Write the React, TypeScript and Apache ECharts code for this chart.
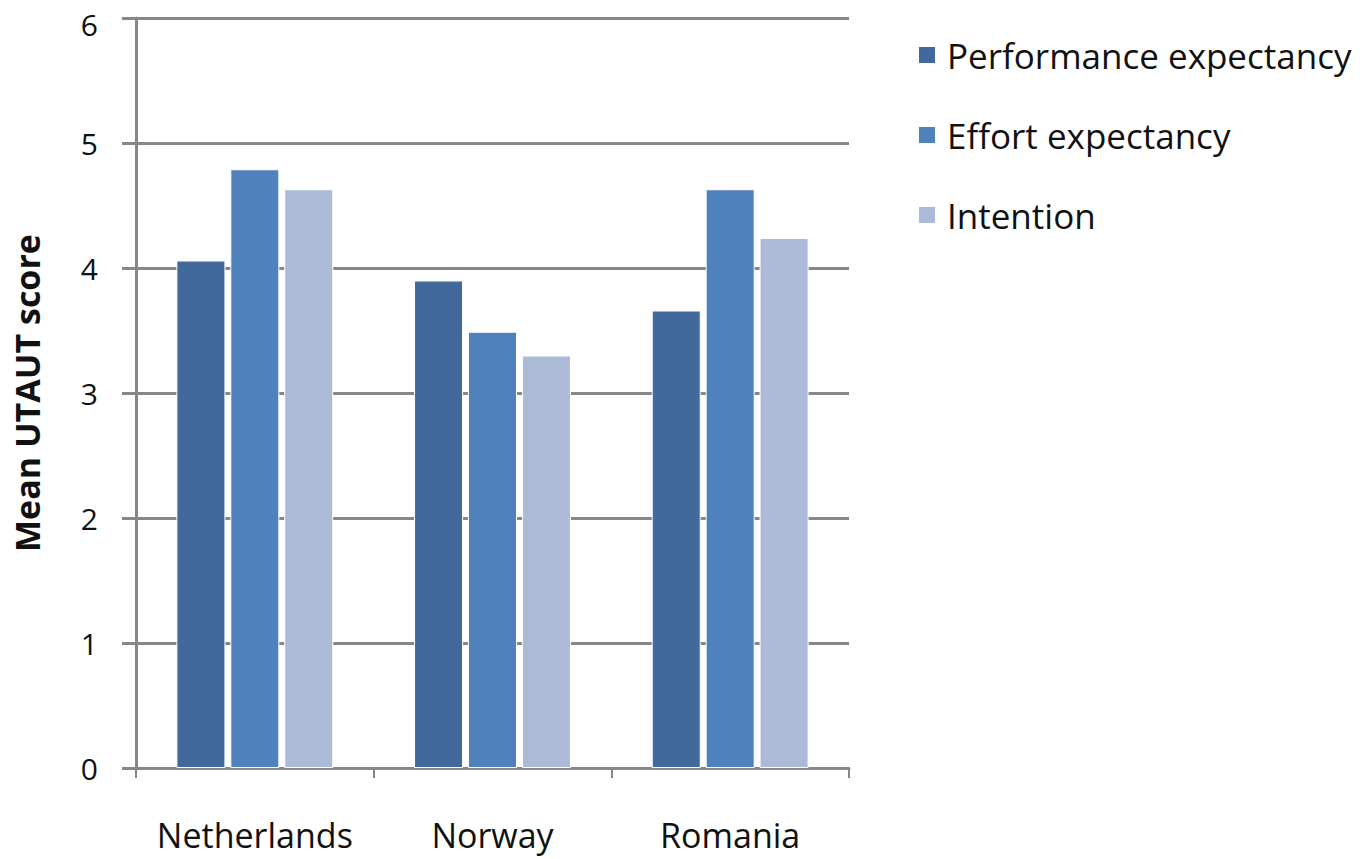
import React, { useEffect, useRef } from "react";
import * as echarts from "echarts";

const categories = ["Netherlands", "Norway", "Romania"];
const seriesNames = ["Performance expectancy", "Effort expectancy", "Intention"];
const performance = [4.06, 3.9, 3.66];
const effort = [4.79, 3.49, 4.63];
const intention = [4.63, 3.3, 4.24];
const yTicks = [0, 1, 2, 3, 4, 5, 6];
const colors = ["#41699c", "#4f81bd", "#aabad7"];

export default function App() {
  const ref = useRef<HTMLDivElement>(null);
  useEffect(() => {
    document.body.style.margin = "0";
    const chart = echarts.init(ref.current!, null, { renderer: "svg" });
    const font = "Open Sans, Lato, sans-serif";
    const values = [performance, effort, intention];
    const yMax = yTicks[yTicks.length - 1];
    chart.setOption({
      animation: false,
      backgroundColor: "#ffffff",
      color: colors,
      grid: { left: 136, right: 511, top: 18, bottom: 91, containLabel: false, outerBoundsMode: "none" },
      legend: {
        orient: "vertical",
        left: 912,
        top: 32,
        itemWidth: 18,
        itemHeight: 18,
        itemGap: 44,
        icon: "rect",
        data: seriesNames,
        textStyle: { fontSize: 35, color: "#111", fontFamily: font, lineHeight: 36, padding: [0, 0, 0, 6] },
      },
      xAxis: {
        type: "category",
        data: categories,
        axisLine: { lineStyle: { color: "#878787", width: 3 } },
        axisTick: { show: true, length: 10, lineStyle: { color: "#878787", width: 2 } },
        axisLabel: { fontSize: 34, color: "#111", fontFamily: font, margin: 50, interval: 0, hideOverlap: false },
      },
      yAxis: {
        type: "value",
        min: yTicks[0],
        max: yMax,
        interval: 1,
        name: "Mean UTAUT score",
        nameLocation: "middle",
        nameGap: 92,
        nameTextStyle: { fontSize: 34, fontWeight: "bold", color: "#111", fontFamily: font },
        axisLine: { show: true, lineStyle: { color: "#878787", width: 3 } },
        axisTick: { show: true, length: 14, lineStyle: { color: "#878787", width: 3 } },
        axisLabel: {
          fontSize: 30,
          lineHeight: 30,
          color: "#111",
          fontFamily: font,
          margin: 38,
          formatter: (v: number) => (v === yMax ? `{t|${v}}` : `${v}`),
          rich: { t: { fontSize: 30, lineHeight: 30, color: "#111", fontFamily: font, padding: [12, 0, 0, 0] } },
        },
        splitLine: { lineStyle: { color: "#878787", width: 3 } },
      },
      series: seriesNames.map((name, i) => ({
        name,
        type: "bar",
        data: values[i],
        barGap: "10%",
        barCategoryGap: "34%",
        itemStyle: { color: colors[i], borderColor: "#ffffff", borderWidth: 1 },
      })),
    });
    return () => chart.dispose();
  }, []);
  return <div ref={ref} style={{ width: 1360, height: 859 }} />;
}
